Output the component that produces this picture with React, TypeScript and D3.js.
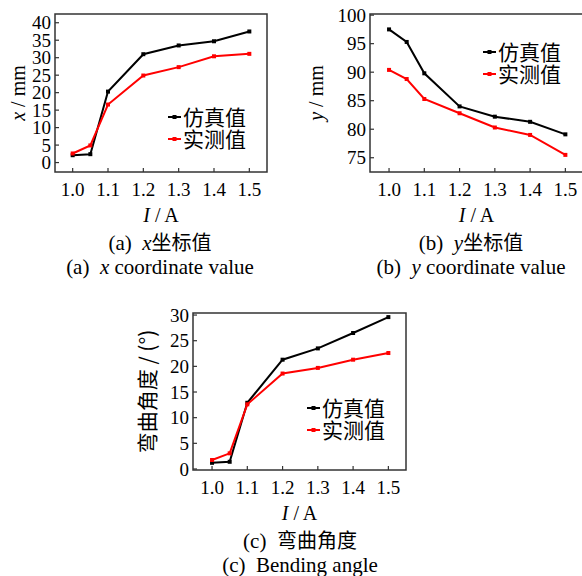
import React from 'react';
import * as d3 from 'd3';

// current values (A)
const currents = [1.0, 1.05, 1.1, 1.2, 1.3, 1.4, 1.5];
const xTickValues = [1.0, 1.1, 1.2, 1.3, 1.4, 1.5];

// (a) x coordinate, mm
const xSim = [2.1, 2.4, 20.3, 31.0, 33.5, 34.7, 37.5];
const xMeas = [2.6, 4.9, 16.6, 24.9, 27.3, 30.4, 31.1];
const xTicksA = [0, 5, 10, 15, 20, 25, 30, 35, 40];

// (b) y coordinate, mm
const ySim = [97.5, 95.3, 89.8, 84.0, 82.2, 81.3, 79.1];
const yMeas = [90.4, 88.8, 85.3, 82.8, 80.3, 79.0, 75.5];
const yTicksB = [75, 80, 85, 90, 95, 100];

// (c) bending angle, degrees
const angSim = [1.2, 1.4, 12.9, 21.3, 23.5, 26.5, 29.6];
const angMeas = [1.75, 3.05, 12.6, 18.6, 19.7, 21.3, 22.6];
const yTicksC = [0, 5, 10, 15, 20, 25, 30];

const seriesNames = ['仿真值', '实测值'];
const seriesColors = ['#000000', '#ff0000'];

const SERIF = '"Liberation Serif", "Times New Roman", serif';
const CJK = '"Noto Sans CJK SC", sans-serif';

type PanelProps = {
  left: number; top: number; width: number; height: number;
  xDomain: [number, number]; yDomain: [number, number];
  yTicks: number[];
  sim: number[]; meas: number[];
  yLabel: React.ReactNode;
  yLabelX: number;
  legendX: number; legendY: number;
  captionX: number;
  captionCn: React.ReactNode;
  captionEn: React.ReactNode;
};

const Panel = (p: PanelProps) => {
  const x = d3.scaleLinear().domain(p.xDomain).range([p.left, p.left + p.width]);
  const y = d3.scaleLinear().domain(p.yDomain).range([p.top + p.height, p.top]);
  const line = d3.line<number>().x((_, i) => x(currents[i])).y(d => y(d));
  const bottom = p.top + p.height;
  const cx = p.left + p.width / 2;
  const cy = p.top + p.height / 2;
  const series = [p.sim, p.meas];

  return (
    <g>
      {series.map((s, k) => (
        <g key={k}>
          <path d={line(s) || ''} fill="none" stroke={seriesColors[k]} strokeWidth={2} />
          {s.map((v, i) => (
            <rect key={i} x={x(currents[i]) - 2} y={y(v) - 2} width={4} height={4} fill={seriesColors[k]} />
          ))}
        </g>
      ))}
      <rect x={p.left} y={p.top} width={p.width} height={p.height} fill="none" stroke="#333" strokeWidth={1.5} />
      {p.yTicks.map(t => (
        <g key={t}>
          <line x1={p.left} x2={p.left + 4} y1={y(t)} y2={y(t)} stroke="#333" strokeWidth={1.2} />
          <text x={p.left - 4} y={y(t)} dy="0.35em" textAnchor="end" fontFamily={SERIF} fontSize={19}>{t}</text>
        </g>
      ))}
      {xTickValues.map(t => (
        <g key={t}>
          <line x1={x(t)} x2={x(t)} y1={bottom} y2={bottom - 4} stroke="#333" strokeWidth={1.2} />
          <text x={x(t)} y={bottom + 24} textAnchor="middle" fontFamily={SERIF} fontSize={19}>{t.toFixed(1)}</text>
        </g>
      ))}
      <text transform={`translate(${p.yLabelX},${cy}) rotate(-90)`} textAnchor="middle" fontSize={20}
        style={{ whiteSpace: 'pre' }}>{p.yLabel}</text>
      {seriesNames.map((n, k) => {
        const ly = p.legendY + k * 22;
        return (
          <g key={n}>
            <line x1={p.legendX} x2={p.legendX + 13} y1={ly} y2={ly} stroke={seriesColors[k]} strokeWidth={2} />
            <rect x={p.legendX + 4.5} y={ly - 2} width={4} height={4} fill={seriesColors[k]} />
            <text x={p.legendX + 15} y={ly} dy="0.36em" fontFamily={CJK} fontSize={21}>{n}</text>
          </g>
        );
      })}
      <text x={cx} y={bottom + 50} textAnchor="middle" fontFamily={SERIF} fontSize={20}>
        <tspan fontStyle="italic">I</tspan> / A
      </text>
      <text x={p.captionX} y={bottom + 78} textAnchor="middle" fontFamily={SERIF} fontSize={21}
        style={{ whiteSpace: 'pre' }}>{p.captionCn}</text>
      <text x={p.captionX} y={bottom + 102} textAnchor="middle" fontFamily={SERIF} fontSize={21}
        style={{ whiteSpace: 'pre' }}>{p.captionEn}</text>
    </g>
  );
};

export default function App() {
  return (
    <svg width={582} height={576} style={{ position: 'absolute', left: 0, top: 0, background: '#fff' }}>
      <Panel
        left={55} top={14} width={212} height={158}
        xDomain={[0.95, 1.55]} yDomain={[-2.7, 42.5]} yTicks={xTicksA}
        sim={xSim} meas={xMeas}
        yLabel={<tspan fontFamily={SERIF}><tspan fontStyle="italic">x</tspan> / mm</tspan>}
        yLabelX={25}
        legendX={168} legendY={117}
        captionX={160}
        captionCn={<><tspan>(a)  </tspan><tspan fontStyle="italic">x</tspan><tspan fontFamily={CJK} fontSize={20}>坐标值</tspan></>}
        captionEn={<><tspan>(a)  </tspan><tspan fontStyle="italic">x</tspan><tspan> coordinate value</tspan></>}
      />
      <Panel
        left={370} top={14} width={213} height={158}
        xDomain={[0.946, 1.55]} yDomain={[72.5, 100.2]} yTicks={yTicksB}
        sim={ySim} meas={yMeas}
        yLabel={<tspan fontFamily={SERIF}><tspan fontStyle="italic">y</tspan> / mm</tspan>}
        yLabelX={323}
        legendX={483} legendY={52}
        captionX={471}
        captionCn={<><tspan>(b)  </tspan><tspan fontStyle="italic">y</tspan><tspan fontFamily={CJK} fontSize={20}>坐标值</tspan></>}
        captionEn={<><tspan>(b)  </tspan><tspan fontStyle="italic">y</tspan><tspan> coordinate value</tspan></>}
      />
      <Panel
        left={193} top={313} width={213} height={157}
        xDomain={[0.946, 1.55]} yDomain={[-0.2, 30.4]} yTicks={yTicksC}
        sim={angSim} meas={angMeas}
        yLabel={<tspan fontFamily={CJK} fontSize={21}>弯曲角度 / (°)</tspan>}
        yLabelX={155}
        legendX={307} legendY={408}
        captionX={300}
        captionCn={<><tspan>(c)  </tspan><tspan fontFamily={CJK} fontSize={20}>弯曲角度</tspan></>}
        captionEn={<tspan>(c)  Bending angle</tspan>}
      />
    </svg>
  );
}
